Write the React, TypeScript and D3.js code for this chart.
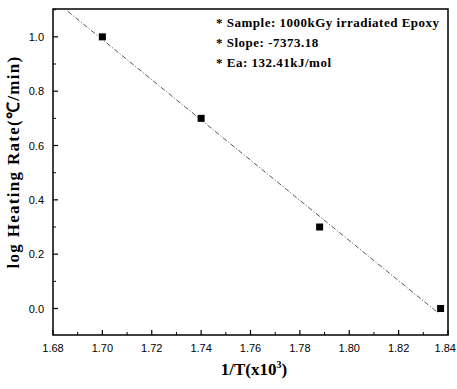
import React from "react";
import * as d3 from "d3";

const invT = [1.7, 1.74, 1.788, 1.837];
const logRate = [1.0, 0.7, 0.3, 0.0];
const xTicks = [1.68, 1.7, 1.72, 1.74, 1.76, 1.78, 1.8, 1.82, 1.84];
const yTicks = [0.0, 0.2, 0.4, 0.6, 0.8, 1.0];
const notes = ["* Sample: 1000kGy irradiated Epoxy", "* Slope: -7373.18", "* Ea: 132.41kJ/mol"];
const fitRange = [1.686, 1.836];

const W = 457, H = 389;
const L = 53, R = 448, T = 9, B = 335;

export default function App() {
  const x = d3.scaleLinear().domain([1.68, 1.84]).range([L, R]);
  const y = d3.scaleLinear().domain([-0.0975, 1.1025]).range([B, T]);
  const mx = d3.mean(invT)!, my = d3.mean(logRate)!;
  let sxy = 0, sxx = 0;
  invT.forEach((v, i) => { sxy += (v - mx) * (logRate[i] - my); sxx += (v - mx) ** 2; });
  const b = sxy / sxx, a = my - b * mx;
  const line = d3.line<number>().x(d => x(d)).y(d => y(a + b * d));
  const minorX = d3.range(1.69, 1.84, 0.02);
  const minorY = d3.range(-0.1, 1.1, 0.2).filter(v => v > -0.099);
  const tickFont = "'Liberation Sans', Arial, sans-serif";
  const serif = "'Liberation Serif', 'Times New Roman', serif";
  return (
    <svg width={W} height={H} style={{ position: "absolute", left: 0, top: 0, background: "#fff" }}>
      <rect x={L} y={T} width={R - L} height={B - T} fill="none" stroke="#000" strokeWidth={1.5} />
      {xTicks.map((t, i) => {
        const last = i === xTicks.length - 1;
        return (
          <g key={"xt" + t}>
            <line x1={x(t)} x2={x(t)} y1={B} y2={B - 5} stroke="#000" strokeWidth={1.2} />
            <text x={last ? W - 1 : x(t)} y={352} textAnchor={last ? "end" : "middle"} fontFamily={tickFont} fontSize={11}>{t.toFixed(2)}</text>
          </g>
        );
      })}
      {minorX.map(t => (
        <line key={"xm" + t} x1={x(t)} x2={x(t)} y1={B} y2={B - 3} stroke="#000" strokeWidth={1} />
      ))}
      {yTicks.map(t => (
        <g key={"yt" + t}>
          <line x1={L} x2={L + 5} y1={y(t)} y2={y(t)} stroke="#000" strokeWidth={1.2} />
          <text x={44} y={y(t) + 4} textAnchor="end" fontFamily={tickFont} fontSize={11}>{t.toFixed(1)}</text>
        </g>
      ))}
      {minorY.map(t => (
        <line key={"ym" + t} x1={L} x2={L + 3} y1={y(t)} y2={y(t)} stroke="#000" strokeWidth={1} />
      ))}
      <path d={line(fitRange) || ""} fill="none" stroke="#555" strokeWidth={1} strokeDasharray="5,2,1,2" />
      {invT.map((v, i) => (
        <rect key={"p" + i} x={x(v) - 3.5} y={y(logRate[i]) - 3.5} width={7} height={7} fill="#000" />
      ))}
      {notes.map((n, i) => (
        <text key={"n" + i} x={216} y={27 + i * 20} fontFamily={serif} fontWeight="bold" fontSize={13} letterSpacing={0.5}>{n}</text>
      ))}
      <text transform={`translate(19,162) rotate(-90)`} textAnchor="middle" fontFamily={serif} fontWeight="bold" fontSize={17} letterSpacing={1.3}>log Heating Rate(℃/min)</text>
      <text x={254} y={375} textAnchor="middle" fontFamily={serif} fontWeight="bold" fontSize={17}>1/T(x10<tspan dy={-7} fontSize={10}>3</tspan><tspan dy={7}>)</tspan></text>
    </svg>
  );
}
